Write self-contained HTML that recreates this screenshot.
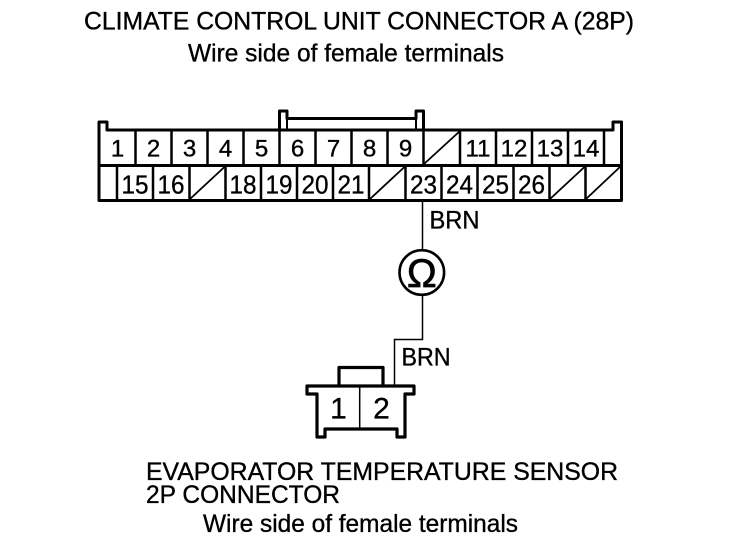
<!DOCTYPE html>
<html><head><meta charset="utf-8"><style>
html,body{margin:0;padding:0;background:#fff;width:736px;height:544px;overflow:hidden}
svg{display:block}
text{font-family:"Liberation Sans",sans-serif;fill:#000;stroke:#000;stroke-width:.35px}
</style></head><body>
<svg width="736" height="544" viewBox="0 0 736 544" xmlns="http://www.w3.org/2000/svg">
<rect width="736" height="544" fill="#fff"/>
<g font-size="25">
<text x="84" y="29.5" textLength="550" lengthAdjust="spacingAndGlyphs">CLIMATE CONTROL UNIT CONNECTOR A (28P)</text>
<text x="188" y="61.5" textLength="316" lengthAdjust="spacingAndGlyphs">Wire side of female terminals</text>
<text x="146" y="480" textLength="472" lengthAdjust="spacingAndGlyphs">EVAPORATOR TEMPERATURE SENSOR</text>
<text x="146" y="503" textLength="194" lengthAdjust="spacingAndGlyphs">2P CONNECTOR</text>
<text x="203" y="532" textLength="315" lengthAdjust="spacingAndGlyphs">Wire side of female terminals</text>
<text x="429.5" y="228.5" textLength="50" lengthAdjust="spacingAndGlyphs">BRN</text>
<text x="401.5" y="365.5" textLength="49" lengthAdjust="spacingAndGlyphs">BRN</text>
</g>
<g fill="none" stroke="#000" stroke-width="3" stroke-linejoin="round">
<path d="M99 200.5V122H107V130H613V122H621.5V200.5Z"/>
<path d="M99 165.5H621.5"/>
<path d="M279.5 130V111H287V118.5H416V111H423.5V130"/>
<path d="M287 118.5V130M416 118.5V130" stroke-width="2"/>
<path d="M135.5 130V165M171.5 130V165M207.5 130V165M243.5 130V165M279.5 130V165M315.5 130V165M351.5 130V165M387.5 130V165M423.5 130V165M460 130V165M496 130V165M532 130V165M568 130V165M604 130V165" stroke-width="2.5"/>
<path d="M117 165V200M153 165V200M189.5 165V200M225.5 165V200M261 165V200M297 165V200M333 165V200M369 165V200M405.5 165V200M441.5 165V200M477.5 165V200M513.5 165V200M549.5 165V200M585.5 165V200" stroke-width="2.5"/>
</g>
<g fill="none" stroke="#000" stroke-width="1.8">
<path d="M424 164L460 131M190 199L225.5 166M370 199L405.5 166M550 199L585.5 166M586 199L621 166"/>
</g>
<g font-size="24" text-anchor="middle">
<text x="117.5" y="156.5">1</text><text x="153.5" y="156.5">2</text><text x="189.5" y="156.5">3</text><text x="225.5" y="156.5">4</text><text x="261.5" y="156.5">5</text><text x="297.5" y="156.5">6</text><text x="333.5" y="156.5">7</text><text x="369.5" y="156.5">8</text><text x="405.5" y="156.5">9</text>
<text x="478" y="156.5">11</text><text x="514" y="156.5">12</text><text x="550" y="156.5">13</text><text x="586" y="156.5">14</text>
</g>
<g font-size="26" text-anchor="middle">
<text x="135" y="193.5" textLength="27" lengthAdjust="spacingAndGlyphs">15</text><text x="171" y="193.5" textLength="27" lengthAdjust="spacingAndGlyphs">16</text><text x="243" y="193.5" textLength="27" lengthAdjust="spacingAndGlyphs">18</text><text x="279" y="193.5" textLength="27" lengthAdjust="spacingAndGlyphs">19</text><text x="315" y="193.5" textLength="27" lengthAdjust="spacingAndGlyphs">20</text><text x="351" y="193.5" textLength="27" lengthAdjust="spacingAndGlyphs">21</text><text x="423.5" y="193.5" textLength="27" lengthAdjust="spacingAndGlyphs">23</text><text x="459.5" y="193.5" textLength="27" lengthAdjust="spacingAndGlyphs">24</text><text x="495.5" y="193.5" textLength="27" lengthAdjust="spacingAndGlyphs">25</text><text x="531.5" y="193.5" textLength="27" lengthAdjust="spacingAndGlyphs">26</text>
</g>
<path d="M422.5 200V250M422.5 295.5V339.5H394.5V386" fill="none" stroke="#000" stroke-width="1.5"/>
<circle cx="421.8" cy="272.5" r="22.3" fill="#fff" stroke="#000" stroke-width="2.6"/>
<text x="421.8" y="287" font-size="40" text-anchor="middle" style="stroke-width:.7px">Ω</text>
<g fill="none" stroke="#000" stroke-width="3.2" stroke-linejoin="round">
<path d="M307 386H414V394H405V437H397V429H325V437H317V394H307Z"/>
<path d="M339 386V367.5H383V386"/>
</g>
<path d="M359.7 386V429" fill="none" stroke="#000" stroke-width="1.5"/>
<g font-size="30" text-anchor="middle">
<text x="338.5" y="418.5">1</text><text x="381.5" y="418.5">2</text>
</g>
</svg>
</body></html>
